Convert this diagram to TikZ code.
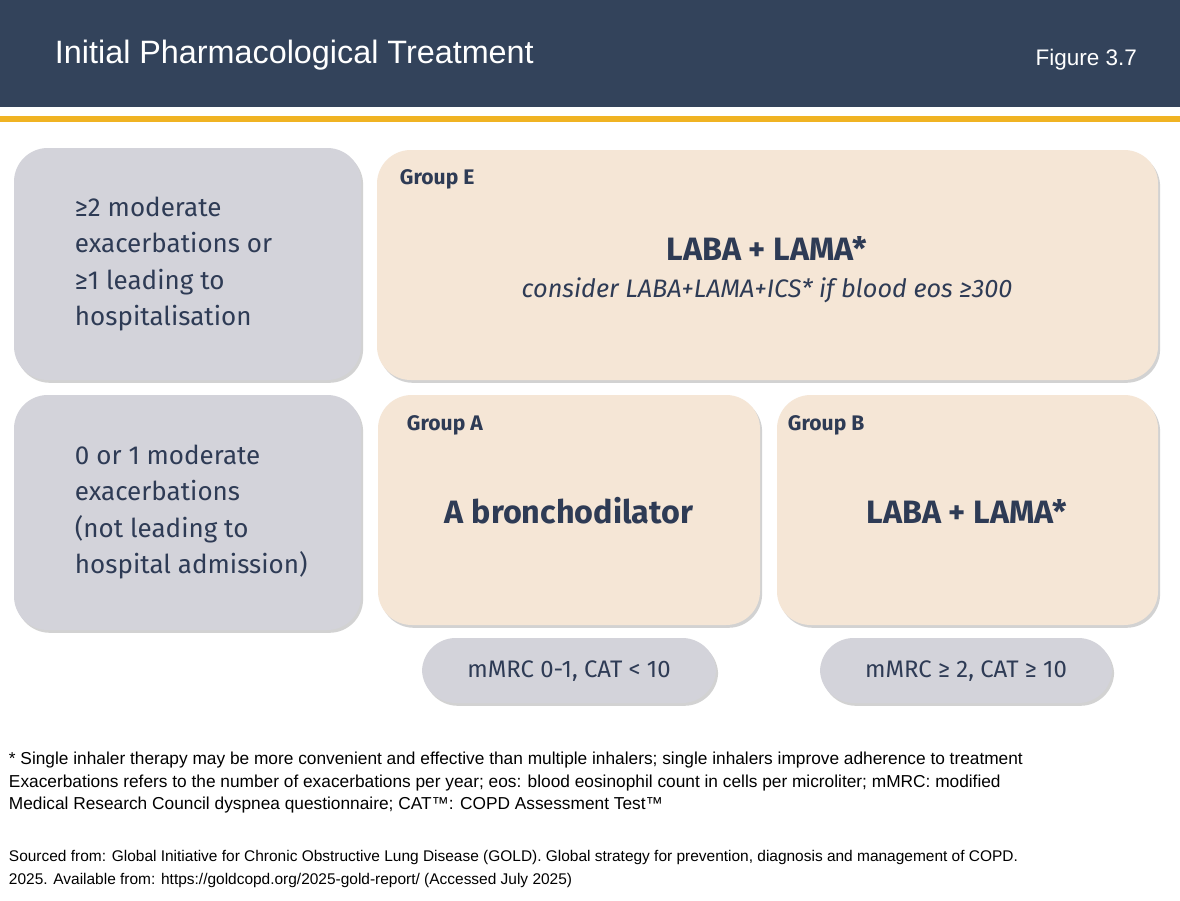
\documentclass[tikz,border=0pt]{standalone}
\usepackage{fontspec}
\setmainfont{Liberation Sans}
\newfontfamily\boxfont{Fira Sans}
\usetikzlibrary{shadows}
\definecolor{navy}{HTML}{33435B}
\definecolor{gold}{HTML}{F0B323}
\definecolor{beige}{HTML}{F5E6D6}
\definecolor{greybox}{HTML}{D3D3DA}
\definecolor{ink}{HTML}{2E3B55}
\begin{document}
\begin{tikzpicture}[x=0.025cm, y=-0.025cm]
  \tikzstyle{panel} = [draw=none, rounded corners=24, drop shadow={shadow xshift=1.5pt, shadow yshift=-2pt, opacity=0.35}]
  \tikzstyle{grey}  = [panel, fill=greybox]
  \tikzstyle{group} = [panel, fill=beige]
  \tikzstyle{side}  = [font=\boxfont\fontsize{18.5}{26}\selectfont, text=ink, align=left, anchor=west]
  \tikzstyle{head}  = [font=\boxfont\bfseries\fontsize{15}{18}\selectfont, text=ink, anchor=west]
  \tikzstyle{drug}  = [font=\boxfont\bfseries\fontsize{23}{28}\selectfont, text=ink]
  \tikzstyle{note}  = [font=\fontsize{12.3}{16}\selectfont, anchor=west, align=left]

  \useasboundingbox (0,0) rectangle (1180,901);
  \fill[white] (0,0) rectangle (1180,901);
  \fill[navy] (0,0) rectangle (1180,107);
  \fill[gold] (0,116) rectangle (1180,122);
  \node[anchor=west, text=white, font=\fontsize{23}{28}\selectfont] (title) at (50,55) {Initial Pharmacological Treatment};
  \node[anchor=east, text=white, font=\fontsize{16}{20}\selectfont] (fig) at (1142,60) {Figure 3.7};

  % panels
  \path[grey]  (14,148) rectangle (361,380);
  \path[group] (377,150) rectangle (1158,380);
  \path[grey]  (14,395) rectangle (361,630);
  \path[group] (378,395) rectangle (760,625);
  \path[group] (777,395) rectangle (1158,625);
  \path[grey]  (422,638) rectangle (716,703);
  \path[grey]  (820,638) rectangle (1112,703);

  % texts
  \node[side] (exE) at (70,264) {≥2 moderate\\exacerbations or\\≥1 leading to\\hospitalisation};
  \node[side] (exA) at (70,512) {0 or 1 moderate\\exacerbations\\(not leading to\\hospital admission)};
  \node[head] (gE) at (395,179) {Group E};
  \node[head] (gA) at (402,425) {Group A};
  \node[head] (gB) at (783,425) {Group B};
  \node[drug] (drE) at (767,248) {LABA + LAMA*};
  \node[font=\boxfont\itshape\fontsize{18}{22}\selectfont, text=ink] (ics) at (767,290) {consider LABA+LAMA+ICS* if blood eos ≥300};
  \node[drug] (drA) at (569,511) {A bronchodilator};
  \node[drug] (drB) at (967,511) {LABA + LAMA*};
  \node[font=\boxfont\fontsize{17}{20}\selectfont, text=ink] (symA) at (569,671) {mMRC 0-1, CAT < 10};
  \node[font=\boxfont\fontsize{17}{20}\selectfont, text=ink] (symB) at (966,671) {mMRC ≥ 2, CAT ≥ 10};

  % footnotes
  \node[note] (foot) at (4,783) {* Single inhaler therapy may be more convenient and effective than multiple inhalers; single inhalers improve adherence to treatment\\Exacerbations refers to the number of exacerbations per year; eos: blood eosinophil count in cells per microliter; mMRC: modified\\Medical Research Council dyspnea questionnaire; CAT™: COPD Assessment Test™};
  \node[note, font=\fontsize{11}{16.5}\selectfont] (src) at (4,869) {Sourced from: Global Initiative for Chronic Obstructive Lung Disease (GOLD). Global strategy for prevention, diagnosis and management of COPD.\\2025. Available from: https://goldcopd.org/2025-gold-report/ (Accessed July 2025)};
\end{tikzpicture}
\end{document}
